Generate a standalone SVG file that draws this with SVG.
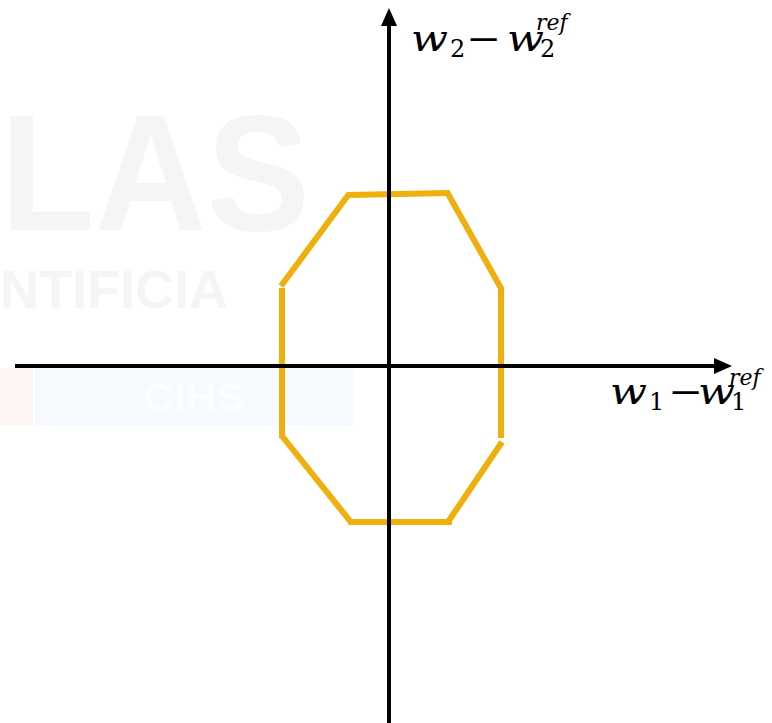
<svg xmlns="http://www.w3.org/2000/svg" width="772" height="723" viewBox="0 0 772 723">
<style>
.wm{font-family:"Liberation Sans",Arial,sans-serif;font-weight:bold;fill:#f5f5f5}
.seg{stroke:#EFAF0C;stroke-width:6;fill:none;stroke-linecap:butt}
.axis{stroke:#000;stroke-width:4;fill:none}
.lbl{font-family:"DejaVu Serif","Liberation Serif",serif;fill:#000}
.it{font-style:italic}
</style>
<rect width="772" height="723" fill="#fff"/>
<g id="watermark">
<text class="wm" x="0" y="230" font-size="166" textLength="310" lengthAdjust="spacingAndGlyphs">LAS</text>
<text class="wm" x="0" y="308" font-size="53" textLength="228" lengthAdjust="spacingAndGlyphs">NTIFICIA</text>
<rect x="0" y="368" width="33" height="57" fill="#fdf4f4"/>
<rect x="35" y="368" width="318" height="57" fill="#f6f9fd"/>
<text x="143" y="410" font-family="Liberation Sans,Arial,sans-serif" font-weight="bold" font-size="37" fill="#fcfdfe" textLength="102" lengthAdjust="spacingAndGlyphs">CIHS</text>
</g>
<g id="region">
<line class="seg" x1="347" y1="195" x2="450" y2="193"/>
<line class="seg" x1="349" y1="194" x2="281" y2="286"/>
<line class="seg" x1="282" y1="288" x2="282" y2="438"/>
<line class="seg" x1="282" y1="436" x2="350" y2="521"/>
<line class="seg" x1="348" y1="522" x2="452" y2="522"/>
<line class="seg" x1="448" y1="522" x2="502" y2="442"/>
<line class="seg" x1="501" y1="288" x2="501" y2="438"/>
<line class="seg" x1="447" y1="192" x2="502" y2="290"/>
</g>
<g id="connectors">
<line class="axis" x1="389" y1="723" x2="389" y2="24"/>
<polygon points="389,8 381,26 397,26" fill="#000"/>
<line class="axis" x1="15" y1="366" x2="716" y2="366"/>
<polygon points="732,366 714,358 714,374" fill="#000"/>
</g>
<g id="label-w2">
<text class="lbl it" x="411" y="51" font-size="35" textLength="37" lengthAdjust="spacingAndGlyphs">w</text>
<text class="lbl" x="450" y="57" font-size="24">2</text>
<text class="lbl" x="466" y="51" font-size="36" textLength="35" lengthAdjust="spacingAndGlyphs">−</text>
<text class="lbl it" x="507" y="51" font-size="35" textLength="37" lengthAdjust="spacingAndGlyphs">w</text>
<text class="lbl" x="540" y="57" font-size="24">2</text>
<text class="lbl it" x="536" y="30" font-size="22">ref</text>
</g>
<g id="label-w1">
<text class="lbl it" x="610" y="404" font-size="35" textLength="37" lengthAdjust="spacingAndGlyphs">w</text>
<text class="lbl" x="649" y="410" font-size="24">1</text>
<text class="lbl" x="668" y="404" font-size="36" textLength="35" lengthAdjust="spacingAndGlyphs">−</text>
<text class="lbl it" x="698" y="404" font-size="35" textLength="37" lengthAdjust="spacingAndGlyphs">w</text>
<text class="lbl" x="731" y="410" font-size="24">1</text>
<text class="lbl it" x="729" y="385" font-size="22">ref</text>
</g>
</svg>
